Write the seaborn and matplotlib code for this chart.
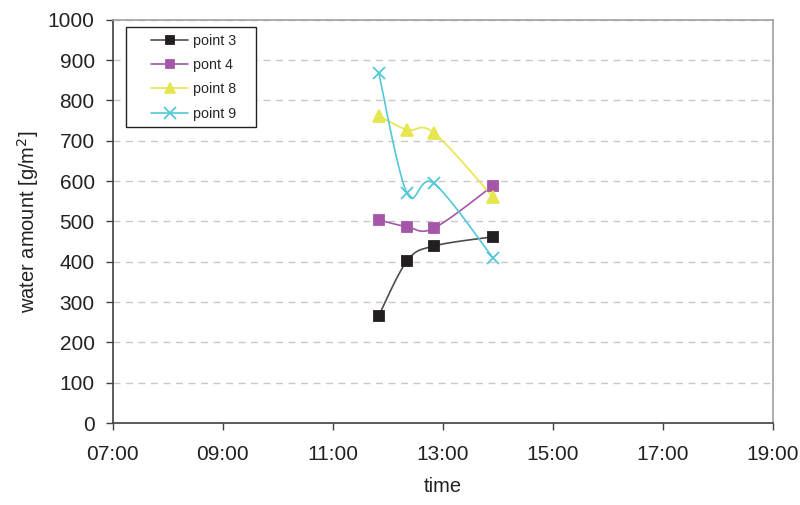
import numpy as np
import pandas as pd
import matplotlib
matplotlib.use("Agg")
import matplotlib.pyplot as plt
from matplotlib.patches import Rectangle
import seaborn as sns

# data
times = ["11:50", "12:21", "12:50", "13:55"]
point3 = [266, 402, 439, 462]
point4 = [504, 487, 483, 589]
point8 = [762, 727, 720, 560]
point9 = [869, 570, 595, 409]
series_names = ["point 3", "pont 4", "point 8", "point 9"]
x_ticks = ["07:00", "09:00", "11:00", "13:00", "15:00", "17:00", "19:00"]
y_ticks = [0, 100, 200, 300, 400, 500, 600, 700, 800, 900, 1000]


def to_hours(t):
    h, m = t.split(":")
    return int(h) + int(m) / 60.0


def smooth(x, y, n=30):
    # bezier through the points, like excel "smoothed line"
    x = np.asarray(x, float)
    y = np.asarray(y, float)
    px = np.concatenate([[x[0]], x, [x[-1]]])
    py = np.concatenate([[y[0]], y, [y[-1]]])
    xs, ys = [], []
    for i in range(1, len(px) - 2):
        t = np.linspace(0, 1, n)
        for p, out in ((px, xs), (py, ys)):
            p0, p1, p2, p3 = p[i - 1], p[i], p[i + 1], p[i + 2]
            c1 = p1 + (p2 - p0) / 6
            c2 = p2 - (p3 - p1) / 6
            out.extend((1 - t) ** 3 * p1 + 3 * (1 - t) ** 2 * t * c1
                       + 3 * (1 - t) * t ** 2 * c2 + t ** 3 * p2)
    return np.array(xs), np.array(ys)


hours = [to_hours(t) for t in times]
df = pd.DataFrame({
    "time": hours * 4,
    "value": point3 + point4 + point8 + point9,
    "series": sum([[s] * 4 for s in series_names], []),
})

sns.set_style("white")
plt.rcParams["font.family"] = ["Liberation Sans", "DejaVu Sans"]

fig = plt.figure(figsize=(8, 5.05), dpi=100)
ax = fig.add_axes([0.141, 0.162, 0.825, 0.799])

line_colors = ["#4d4d4d", "#a556a8", "#e6e650", "#52c8d8"]
marker_colors = ["#231f20", "#a556a8", "#e6e650", "#52c8d8"]
markers = ["s", "s", "^", "x"]
msizes = [7, 7, 8, 9]

handles = []
for i, name in enumerate(series_names):
    d = df[df.series == name]
    sx, sy = smooth(d.time, d.value)
    ax.plot(sx, sy, color=line_colors[i], lw=1.2, zorder=3)
    ax.plot(d.time, d.value, ls="none", marker=markers[i], ms=msizes[i],
            color=marker_colors[i], mec=marker_colors[i], mew=1.3, zorder=4)
    h, = ax.plot([], [], color=line_colors[i], lw=1.2, marker=markers[i],
                 ms=msizes[i] - 1, mfc=marker_colors[i], mec=marker_colors[i], mew=1.3)
    handles.append(h)

ax.set_xlim(7, 19)
ax.set_ylim(0, 1000)
ax.set_xticks([to_hours(t) for t in x_ticks])
ax.set_xticklabels(x_ticks, fontsize=15, color="#222222")
ax.set_yticks(y_ticks)
ax.set_yticklabels([str(v) for v in y_ticks], fontsize=15, color="#222222")
ax.tick_params(axis="both", direction="out", length=5, width=1, color="#404040",
               left=True, bottom=True)
ax.tick_params(axis="y", pad=8)
ax.tick_params(axis="x", pad=11)

ax.yaxis.grid(True, ls=(0, (5, 4)), color="#c8c8c8", lw=1)
ax.set_axisbelow(True)
for s in ["left", "bottom"]:
    ax.spines[s].set_color("#404040")
    ax.spines[s].set_linewidth(1.2)
for s in ["top", "right"]:
    ax.spines[s].set_color("#a0a0a0")
    ax.spines[s].set_linewidth(1.2)

ax.set_xlabel("time", fontsize=14.5, labelpad=9, color="#222222")
ax.set_ylabel("water amount [g/m$^2$]", fontsize=14.5, labelpad=5, color="#222222")

# legend box drawn separately so the padding matches
ax.add_patch(Rectangle((0.158, 0.748), 0.1625, 0.198, transform=fig.transFigure,
                       facecolor="white", edgecolor="#222222", lw=1.0, zorder=5,
                       clip_on=False))
leg = ax.legend(handles, series_names, loc="upper left",
                bbox_to_anchor=(0.189, 0.933), bbox_transform=fig.transFigure,
                fontsize=10.3, frameon=False, borderpad=0, borderaxespad=0,
                handlelength=2.6, handletextpad=0.3, labelspacing=0.72)
leg.set_zorder(6)

fig.savefig("out.png", dpi=100)
